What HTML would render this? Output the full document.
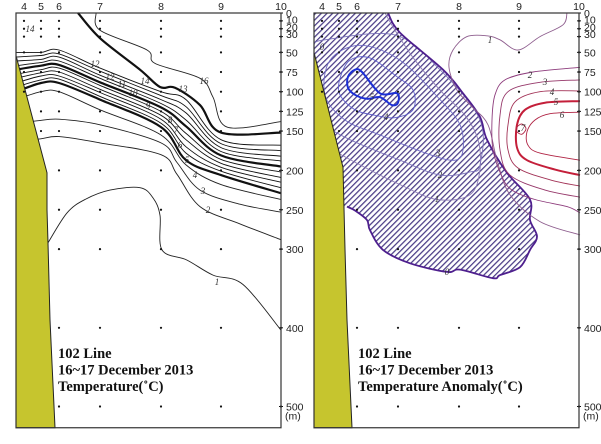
<!DOCTYPE html>
<html><head><meta charset="utf-8">
<style>
html,body{margin:0;padding:0;background:#fff;}
svg{display:block;font-family:"Liberation Sans",sans-serif;}
.lbl{font-size:10.5px;fill:#222;}
.ttl{font-family:"Liberation Serif",serif;font-weight:bold;font-size:14.5px;fill:#111;}
.cl{font-family:"Liberation Serif",serif;font-style:italic;font-size:9px;fill:#333;}
</style></head>
<body>
<svg id="chart" width="601" height="444" viewBox="0 0 601 444">
<defs>
<pattern id="hatch" width="4" height="4" patternUnits="userSpaceOnUse" patternTransform="rotate(45)">
<line x1="0.6" y1="-2" x2="0.6" y2="6" stroke="#4a3c86" stroke-width="1.3"/>
</pattern>
</defs>
<g id="left"></g>
<g id="right"></g>
</svg>
<script>
// ---- data ----
const stationNames = ['4','5','6','7','8','9','10'];
const stationKm = [8, 25, 43, 84, 145, 205, 265];
const sampleDepths = [10,20,30,50,75,100,125,150,200,250,300,400,500];
const stationMaxDepth = [100,150,500,500,500,500,500];
const depthTicks = [0,10,20,30,50,75,100,125,150,200,250,300,400,500];
const depthTickLabelY = [0,8,18,27,50,75,100,125,150,200,250,300,400,500];
const coastLeft = [[0,54],[31,203],[31,250],[32,292],[34,390],[39,527]];
const coastRight = [[0,50],[29,196],[31,300],[33,390],[38,527]];
// temperature band isotherms at grid columns
const bandKm = [0,25,43,84,145,170,205,265];
const iso14 = [50,50,47,70,100,110,161,168];
const iso13 = [56,54,52,74,105,119,166,175];
const iso12 = [61,59,56,79,110,127,171,182];
const iso11 = [67,63,61,83,115,136,176,188];
const iso10 = [72,67,66,88,120,144,181,195];
const iso9 = [78,72,70,92,125,153,186,202];
const iso8 = [83,76,75,97,130,161,191,209];
const iso7 = [89,80,80,101,135,170,196,215];
const iso6 = [94,85,84,106,140,178,201,222];
const iso5 = [100,89,89,110,145,187,206,229];
const iso4 = [110,100,100,123,155,193,218,237];
const iso16 = [[80,0],[84,22],[131,47],[139,64],[184,83],[197,107],[211,145],[265,138]];
const iso15 = [[62,0],[84,32],[124,72],[144,94],[159,95],[184,117],[205,152],[265,152]];
const iso3 = [[0,140],[21,137],[43,135],[84,142],[145,165],[161,190],[184,225],[224,243],[265,253]];
const iso2 = [[0,162],[24,160],[43,157],[84,165],[145,180],[161,205],[184,246],[224,268],[265,288]];
const iso1 = [[32,292],[51,254],[69,237],[94,225],[124,222],[137,235],[144,257],[146,301],[171,314],[197,333],[227,345],[265,403]];
// anomaly contours
const anom0 = [[74,0],[86,25],[129,72],[149,102],[166,132],[173,161],[193,203],[216,237],[216,263],[223,284],[216,301],[206,323],[186,333],[179,337],[146,326],[133,329],[96,318],[69,301],[56,276],[53,263],[41,251],[33,246]];
const anomM5 = [[34,81],[41,72],[48,75],[66,102],[83,102],[84,114],[78,117],[66,107],[53,109],[41,104],[34,95]];
const anomM4 = [[26,83],[36,60],[56,57],[81,79],[99,98],[99,123],[81,133],[61,130],[41,123],[26,104]];
const anomM3 = [[16,60],[46,41],[86,60],[126,110],[146,142],[149,174],[141,187],[116,180],[66,155],[31,136],[11,104]];
const anomM2 = [[0,40],[11,34],[81,28],[126,72],[166,136],[166,193],[156,202],[126,206],[86,187],[36,161],[0,136]];
const anomM1 = [[0,161],[46,193],[86,218],[123,237],[156,231],[166,199],[164,161],[151,130],[126,98],[101,60],[81,22],[71,0]];
const anomP1 = [[253,0],[249,15],[226,30],[204,47],[186,34],[173,29],[153,30],[139,47],[135,69],[143,98],[158,119],[174,142],[183,187],[196,231],[226,265],[266,282]];
const anomP2 = [[266,69],[219,75],[191,85],[181,104],[178,136],[179,174],[188,208],[198,225],[221,237],[253,246],[266,254]];
const anomP3 = [[266,85],[226,88],[194,100],[186,130],[186,174],[196,206],[231,225],[266,234]];
const anomP4 = [[266,99],[226,100],[201,113],[194,142],[194,174],[204,197],[236,212],[266,220]];
const anomP5 = [[266,112],[231,114],[211,123],[203,142],[203,171],[213,187],[241,199],[266,206]];
const anomP6 = [[266,126],[236,128],[221,136],[213,151],[214,168],[226,178],[266,187]];
const anomP7 = [[203,145],[208,141],[212,147],[208,154],[203,151]];

// ---- scales ----
const TOP = 13, DEPTH_PX = 0.787;
function yS(d){ return TOP + d*DEPTH_PX; }
function xS(km, ox){ return ox + km; }
const NS='http://www.w3.org/2000/svg';
function mk(tag, attrs, parent){ const e=document.createElementNS(NS,tag); for(const k in attrs) e.setAttribute(k, attrs[k]); parent.appendChild(e); return e; }
function smooth(pts, closed){
  const n=pts.length; if(n<2) return '';
  let d='M'+pts[0][0].toFixed(1)+','+pts[0][1].toFixed(1);
  const get=i=> closed ? pts[(i+n)%n] : pts[Math.max(0,Math.min(n-1,i))];
  const segs = closed ? n : n-1;
  for(let i=0;i<segs;i++){
    const p0=get(i-1),p1=get(i),p2=get(i+1),p3=get(i+2);
    const c1=[p1[0]+(p2[0]-p0[0])/6, p1[1]+(p2[1]-p0[1])/6];
    const c2=[p2[0]-(p3[0]-p1[0])/6, p2[1]-(p3[1]-p1[1])/6];
    d+='C'+c1[0].toFixed(1)+','+c1[1].toFixed(1)+' '+c2[0].toFixed(1)+','+c2[1].toFixed(1)+' '+p2[0].toFixed(1)+','+p2[1].toFixed(1);
  }
  if(closed) d+='Z';
  return d;
}
function toPx(arr, ox){ return arr.map(p=>[xS(p[0],ox), yS(p[1])]); }
function bandPx(depths, ox){ return depths.map((d,i)=>[xS(bandKm[i],ox), yS(d)]); }

function frame(g, ox){
  const W=265, H=yS(527)-TOP;
  stationKm.forEach((km,si)=>{
    sampleDepths.forEach(dp=>{
      if(dp<=stationMaxDepth[si]){
        const c=mk('circle',{cx:xS(km,ox),cy:yS(dp),r:1.1,fill:'#111'},g);
        
        
      }
    });
    const t=mk('text',{x:xS(km,ox),y:10,'text-anchor':'middle',class:'lbl'},g);
    t.textContent=stationNames[si];
    
    
  });
  depthTicks.forEach((dp,i)=>{
    const tk=mk('line',{x1:ox+W-2,x2:ox+W+2,y1:yS(dp),y2:yS(dp),stroke:'#111','stroke-width':1},g);
    
    
    const t=mk('text',{x:ox+W+5,y:yS(depthTickLabelY[i])+4,class:'lbl'},g);
    t.textContent=dp;
    
    
  });
  const m=mk('text',{x:ox+W+4,y:yS(500)+13,class:'lbl'},g);
  m.textContent='(m)';
  
  
  const r=mk('rect',{x:ox,y:TOP,width:W,height:H,fill:'none',stroke:'#333','stroke-width':1.2},g);
  
  
}
function land(g, ox, coast){
  const pts=toPx(coast,ox);
  let d='M'+ox+','+pts[0][1];
  pts.forEach(p=>d+=' L'+p[0].toFixed(1)+','+p[1].toFixed(1));
  d+=' L'+ox+','+yS(527).toFixed(1)+'Z';
  const p=mk('path',{d:d,fill:'#c6c52e',stroke:'#222','stroke-width':1},g);
  
  
}
function line(g, pts, closed, color, w, name){
  const p=mk('path',{d:smooth(pts,closed),fill:'none',stroke:color,'stroke-width':w},g);
  
  
  return p;
}
function clabel(g,x,y,txt,color){
  const t=mk('text',{x:x,y:y,class:'cl','text-anchor':'middle',fill:color||'#333'},g);
  t.textContent=txt;
  
  
}
function titleBlock(g,x,lines){
  lines.forEach((s,i)=>{
    const t=mk('text',{x:x,y:358+i*16.5,class:'ttl'},g);
    t.textContent=s;
    
    
  });
}

// ---- left panel ----
const L=document.getElementById('left'); const OXL=16;
line(L,toPx(iso16,OXL),false,'#222',0.9,'isotherm-16');
line(L,toPx(iso15,OXL),false,'#111',2.2,'isotherm-15');
[iso14,iso13,iso12,iso11,iso10,iso9,iso8,iso7,iso6,iso5].forEach((a,i)=>{
  const lev=14-i; const thick=(lev===10||lev===5);
  line(L,bandPx(a,OXL),false,'#111',thick?2.2:0.9,'isotherm-'+lev);
});
line(L,bandPx(iso4,OXL),false,'#222',0.9,'isotherm-4');
line(L,toPx(iso3,OXL),false,'#222',0.9,'isotherm-3');
line(L,toPx(iso2,OXL),false,'#222',0.9,'isotherm-2');
line(L,toPx(iso1,OXL),false,'#222',0.9,'isotherm-1');
[[95,67,'12'],[110,80,'12'],[122,87,'11'],[133,96,'10'],[148,109,'9'],[170,123,'8'],[176,133,'7'],[180,148,'6'],[187,163,'5'],[195,178,'4'],[203,194,'3'],[208,213,'2'],[217,285,'1'],[145,84,'14'],[183,92,'13'],[204,84,'16'],[30,32,'14']].forEach(l=>clabel(L,l[0],l[1],l[2]));
land(L,OXL,coastLeft);
frame(L,OXL);
titleBlock(L,58,['102 Line','16~17 December 2013','Temperature(˚C)']);

// ---- right panel ----
const R=document.getElementById('right'); const OXR=314;
const a0=toPx(anom0,OXR);
let hd=smooth(a0,false)+' L'+OXR+','+yS(246).toFixed(1)+' L'+OXR+','+TOP+'Z';
const hz=mk('path',{d:hd,fill:'url(#hatch)',stroke:'none'},R);


line(R,toPx(anomM1,OXR),false,'#8a7ab4',0.9,'anomaly-contour-minus1');
line(R,toPx(anomM2,OXR),false,'#7b72ba',0.9,'anomaly-contour-minus2');
line(R,toPx(anomM3,OXR),true,'#6d68c2',0.9,'anomaly-contour-minus3');
line(R,toPx(anomM4,OXR),true,'#5d5cca',0.9,'anomaly-contour-minus4');
line(R,toPx(anomM5,OXR),true,'#1c2fd6',2,'anomaly-contour-minus5');
line(R,a0,false,'#4e1f8e',1.8,'anomaly-contour-zero');
line(R,toPx(anomP1,OXR),false,'#8e5e8e',0.9,'anomaly-contour-1');
line(R,toPx(anomP2,OXR),false,'#8d3c7c',0.9,'anomaly-contour-2');
line(R,toPx(anomP3,OXR),false,'#96386a',0.9,'anomaly-contour-3');
line(R,toPx(anomP4,OXR),false,'#a23256',0.9,'anomaly-contour-4');
line(R,toPx(anomP5,OXR),false,'#c41f3a',2,'anomaly-contour-5');
line(R,toPx(anomP6,OXR),false,'#b02444',0.9,'anomaly-contour-6');
line(R,toPx(anomP7,OXR),true,'#b02444',0.9,'anomaly-contour-7');
[[490,43,'1'],[530,78,'2'],[545,85,'3'],[552,95,'4'],[556,105,'5'],[562,118,'6'],[523,131,'7'],[372,100,'5'],[386,120,'4'],[438,156,'3'],[440,178,'2'],[437,202,'1'],[447,275,'0'],[322,50,'0']].forEach(l=>clabel(R,l[0],l[1],l[2]));
land(R,OXR,coastRight);
frame(R,OXR);
titleBlock(R,358,['102 Line','16~17 December 2013','Temperature Anomaly(˚C)']);
</script>
</body></html>
